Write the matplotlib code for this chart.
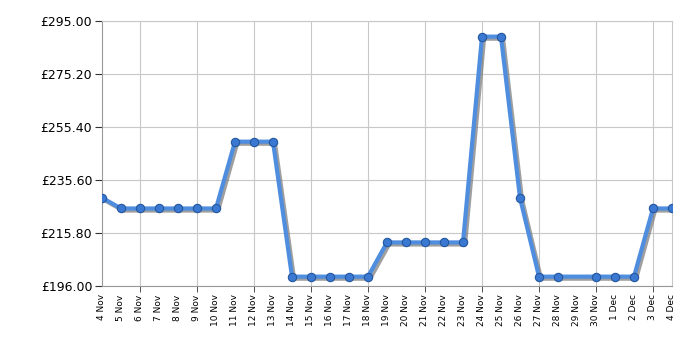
import numpy as np
import matplotlib
matplotlib.use('Agg')
import matplotlib.pyplot as plt
import matplotlib.patheffects as pe

dates=['4 Nov','5 Nov','6 Nov','7 Nov','8 Nov','9 Nov','10 Nov','11 Nov','12 Nov','13 Nov',
       '14 Nov','15 Nov','16 Nov','17 Nov','18 Nov','19 Nov','20 Nov','21 Nov','22 Nov','23 Nov',
       '24 Nov','25 Nov','26 Nov','27 Nov','28 Nov','29 Nov','30 Nov','1 Dec','2 Dec','3 Dec','4 Dec']
prices=[228.99,224.99,224.99,224.99,224.99,224.99,224.99,249.99,249.99,249.99,
        199.49,199.49,199.49,199.49,199.49,212.29,212.29,212.29,212.29,212.29,
        289.29,289.29,228.99,199.49,199.49,np.nan,199.49,199.49,199.49,224.99,224.99]
yticks=[196.00,215.80,235.60,255.40,275.20,295.00]

x=np.arange(len(dates))
y=np.array(prices,dtype=float)
ok=~np.isnan(y)

fig=plt.figure(figsize=(7,3.5),dpi=100)
ax=fig.add_axes([0.1457,0.183,0.8143,0.756])

shadow=[pe.SimpleLineShadow(offset=(1.5,-1.5),shadow_color='#777777',alpha=0.7),pe.Normal()]
ax.plot(x[ok],y[ok],color='#4f8ddf',lw=3,solid_joinstyle='round',path_effects=shadow,zorder=3)
ax.plot(x[ok],y[ok],ls='none',marker='o',ms=6,mfc='#3a78d2',mec='#24579e',mew=0.8,zorder=4)

ax.set_xlim(0,len(dates)-1)
ax.set_ylim(yticks[0],yticks[-1])
ax.set_yticks(yticks)
ax.set_yticklabels([f'£{v:.2f}' for v in yticks],fontsize=9)
# labels on every day, tick marks + grid on every third day
ax.xaxis.remove_overlapping_locs=False
ax.set_xticks(x)
ax.set_xticklabels(dates,rotation=90,fontsize=6.5)
ax.set_xticks(x[2::3],minor=True)
ax.tick_params(axis='x',which='major',length=0,pad=6)
ax.tick_params(axis='x',which='minor',length=4,color='#333333')
ax.tick_params(axis='y',length=5,color='#333333',pad=2)
ax.grid(True,axis='y',color='#c8c8c8',lw=0.8)
ax.grid(True,axis='x',which='minor',color='#c8c8c8',lw=0.8)
for s in ['top','right']:
    ax.spines[s].set_color('#c8c8c8')
for s in ['left','bottom']:
    ax.spines[s].set_color('#999999')

fig.savefig('out.png',dpi=100)
